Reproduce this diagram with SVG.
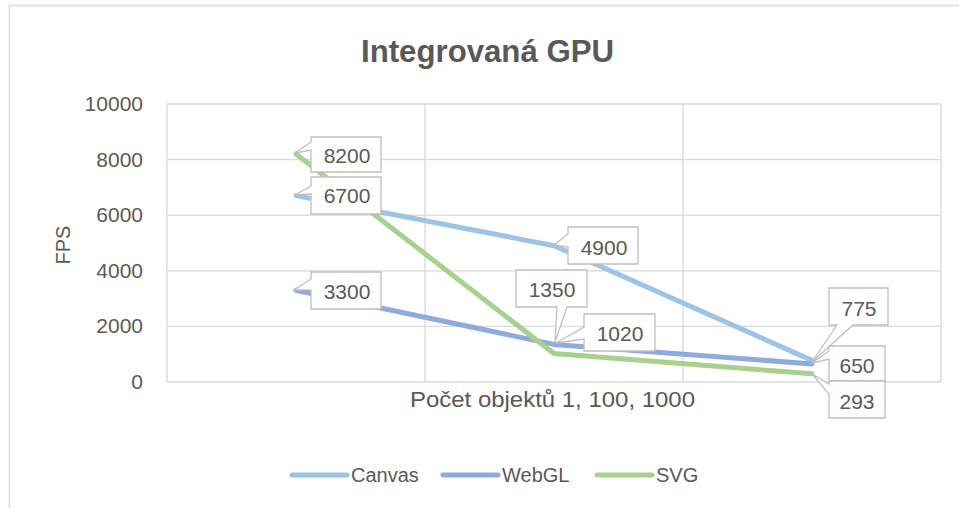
<svg xmlns="http://www.w3.org/2000/svg" width="959" height="508" viewBox="0 0 959 508">
<style>
.t{font-family:"Liberation Sans",Arial,sans-serif;fill:#595959}
.grid{stroke:#D9D9D9;stroke-width:1.3;fill:none}
.ser{fill:none;stroke-width:5;stroke-linejoin:round;stroke-linecap:round}
.call path{fill:#fff;stroke:#BFBFBF;stroke-width:1.3}
.call text{font-family:"Liberation Sans",Arial,sans-serif;fill:#595959;font-size:21px;text-anchor:middle}
</style>
<rect x="0" y="0" width="959" height="508" fill="#fff"/>
<rect x="9.5" y="5.5" width="1000" height="1000" fill="#fff" stroke="#D9D9D9" stroke-width="1.5"/>
<text class="t" x="487.5" y="62" font-size="31" font-weight="bold" text-anchor="middle" textLength="253" lengthAdjust="spacingAndGlyphs">Integrovaná GPU</text>
<g id="gridlines">
<path class="grid" d="M167,104H941M167,159.6H941M167,215.2H941M167,270.8H941M167,326.4H941M167,382H941"/>
<path class="grid" d="M167,104V382M425,104V382M683,104V382M941,104V382"/>
</g>
<g id="y-axis" class="t" font-size="21" text-anchor="end">
<text x="143" y="111">10000</text>
<text x="143" y="166.6">8000</text>
<text x="143" y="222.2">6000</text>
<text x="143" y="277.8">4000</text>
<text x="143" y="333.4">2000</text>
<text x="143" y="389">0</text>
</g>
<text class="t" font-size="20" text-anchor="middle" transform="translate(70,245) rotate(-90)">FPS</text>
<text class="t" x="552.5" y="407" font-size="22" text-anchor="middle" textLength="285" lengthAdjust="spacingAndGlyphs">Počet objektů 1, 100, 1000</text>
<g id="connectors">
<polyline id="canvas" class="ser" stroke="#9DC3E6" points="296,195.6 554,245.7 812,360.4"/>
<polyline id="webgl" class="ser" stroke="#8FAADC" points="296,290.2 554,344.4 812,363.9"/>
<polyline id="svg" class="ser" stroke="#A9D18E" points="296,153.9 554,353.6 812,373.8"/>
</g>
<g id="label-8200" class="call"><path d="M311,137H381V172H311V150L295,153L311,142Z"/><text x="347" y="163">8200</text></g>
<g id="label-6700" class="call"><path d="M311,177H381V214H311V194L295,195L311,186Z"/><text x="347" y="203">6700</text></g>
<g id="label-3300" class="call"><path d="M311,272H381V309H311V290L294,290L311,279Z"/><text x="347" y="299">3300</text></g>
<g id="label-4900" class="call"><path d="M568,227H638V264H568V247L554,245L568,234Z"/><text x="604" y="255">4900</text></g>
<g id="label-1350" class="call"><path d="M516,270H587V307H567L555,342L557,307H516Z"/><text x="552" y="297">1350</text></g>
<g id="label-1020" class="call"><path d="M584,314H655V351H584V339L556,343L584,327Z"/><text x="620" y="341">1020</text></g>
<g id="label-775" class="call"><path d="M829,288H888V325H853L812,362L837,325H829Z"/><text x="859" y="316">775</text></g>
<g id="label-650" class="call"><path d="M829,346H885V381H829V359L812,363L829,351Z"/><text x="857" y="373">650</text></g>
<g id="label-293" class="call"><path d="M829,381H885V418H829V394L812,374L829,384Z"/><text x="857" y="409">293</text></g>
<g id="legend">
<g id="legend-canvas"><line x1="292" y1="475" x2="347" y2="475" stroke="#9DC3E6" stroke-width="5" stroke-linecap="round"/><text class="t" x="351" y="482" font-size="20">Canvas</text></g>
<g id="legend-webgl"><line x1="443" y1="475" x2="498" y2="475" stroke="#8FAADC" stroke-width="5" stroke-linecap="round"/><text class="t" x="502" y="482" font-size="20">WebGL</text></g>
<g id="legend-svg"><line x1="597" y1="475" x2="652" y2="475" stroke="#A9D18E" stroke-width="5" stroke-linecap="round"/><text class="t" x="656" y="482" font-size="20">SVG</text></g>
</g>
</svg>
